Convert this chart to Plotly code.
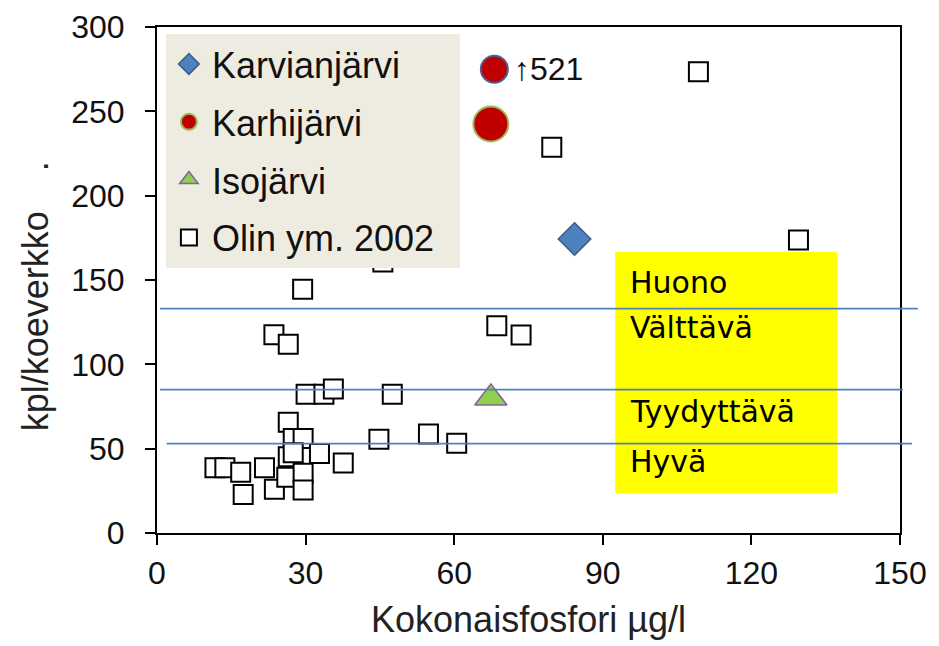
import plotly.graph_objects as go

# ---- data ----
KARVIA_X = [84.3]
KARVIA_Y = [174.3]

KARHI_X = [67.4, 68.1]
KARHI_Y = [242.5, 275.0]          # second point is off-scale (true value 521)
KARHI_LABEL = ["", "↑521"]

ISO_X = [67.4]
ISO_Y = [80.0]

OLIN_X = [11.7, 13.7, 16.9, 17.4, 21.7, 23.7, 26.2, 26.5, 26.5, 27.5, 29.5, 27.5,
          29.5, 29.5, 32.8, 37.6, 29.4, 23.6, 26.5, 30.1, 33.7, 35.6, 47.5, 44.8,
          54.8, 60.5, 68.6, 73.5, 45.6, 79.7, 109.3, 129.5]
OLIN_Y = [38.7, 38.7, 36.0, 22.9, 38.7, 25.9, 33.0, 45.2, 65.6, 56.1, 56.1, 47.6,
          35.4, 25.5, 47.2, 41.5, 144.5, 117.6, 111.9, 82.2, 82.2, 85.4, 82.2, 55.6,
          58.7, 53.2, 122.9, 117.4, 160.7, 228.7, 273.5, 173.7]

# class boundaries (kpl/koeverkko)
BOUNDARIES = [133, 85, 53]
BAND_LABELS = ["Huono", "Välttävä", "Tyydyttävä", "Hyvä"]
BAND_LABEL_Y = [148.4, 122.1, 72.3, 42.1]

X_TICKS = [0, 30, 60, 90, 120, 150]
Y_TICKS = [0, 50, 100, 150, 200, 250, 300]

SANS = "Liberation Sans, Arial, sans-serif"

fig = go.Figure()

fig.add_trace(go.Scatter(
    x=KARVIA_X, y=KARVIA_Y, mode="markers", name="Karvianjärvi",
    legendgroup="a",
    marker=dict(symbol="diamond", size=25, color="#4f81bd", opacity=1,
                line=dict(color="#385d8a", width=1.5)),
))
fig.add_trace(go.Scatter(
    x=KARHI_X, y=KARHI_Y, mode="markers", name="Karhijärvi",
    legendgroup="b",
    marker=dict(symbol="circle", size=[35, 27], color="#c00000", opacity=1,
                line=dict(color=["#9bbb59", "#4a5f93"], width=2)),
))
fig.add_trace(go.Scatter(
    x=ISO_X, y=ISO_Y, mode="markers", name="Isojärvi",
    legendgroup="c",
    marker=dict(symbol="triangle-up", size=28, color="#8fcf4c", opacity=1,
                line=dict(color="#8064a2", width=1.5)),
))
fig.add_trace(go.Scatter(
    x=OLIN_X, y=OLIN_Y, mode="markers", name="Olin ym. 2002\u00a0\u00a0",
    legendgroup="d",
    marker=dict(symbol="square", size=19, color="white", opacity=1,
                line=dict(color="black", width=2)),
))

shapes = [dict(type="rect", xref="x", yref="y", x0=92.5, x1=137.35, y0=23.5, y1=166.8,
               fillcolor="#ffff00", line=dict(width=0), layer="below")]
line_spans = [(0.004, 1.024), (0.004, 1.004), (0.013, 1.016)]
for b, (a0, a1) in zip(BOUNDARIES, line_spans):
    shapes.append(dict(type="line", xref="paper", yref="y", x0=a0, x1=a1, y0=b, y1=b,
                       line=dict(color="#4f81bd", width=1.6), layer="above"))

annotations = []
for lab, yy in zip(BAND_LABELS, BAND_LABEL_Y):
    annotations.append(dict(x=95.1, y=yy, xref="x", yref="y", text=lab, showarrow=False,
                            xanchor="left", yanchor="middle",
                            font=dict(family="DejaVu Sans, Verdana, sans-serif", size=30,
                                      color="black")))
for xx, yy, lab in zip(KARHI_X, KARHI_Y, KARHI_LABEL):
    if lab:
        annotations.append(dict(x=xx, y=yy, xref="x", yref="y", text=lab, showarrow=False,
                                xanchor="left", yanchor="middle", xshift=18,
                                font=dict(family=SANS, size=32, color="#111")))
annotations.append(dict(x=-0.164, y=0.468, xref="paper", yref="paper",
                        text="kpl/koeverkko\u00a0\u00a0\u00a0\u00a0.", showarrow=False,
                        textangle=-90, xanchor="center", yanchor="middle",
                        font=dict(family=SANS, size=36, color="#222")))

axis_common = dict(showline=True, linecolor="black", linewidth=2, mirror=True,
                   ticks="outside", ticklen=10, tickwidth=2, tickcolor="black",
                   showgrid=False, zeroline=False, automargin=False,
                   tickfont=dict(family=SANS, size=32, color="#111"))

fig.update_layout(
    width=931, height=638,
    margin=dict(l=149, r=39, t=19, b=113),
    paper_bgcolor="white", plot_bgcolor="white",
    xaxis=dict(range=[0, 150], tickvals=X_TICKS, ticklabelstandoff=1,
               title=dict(text="Kokonaisfosfori µg/l", standoff=16,
                          font=dict(family=SANS, size=36, color="#222")),
               **axis_common),
    yaxis=dict(range=[0, 300], tickvals=Y_TICKS, ticklabelstandoff=14, **axis_common),
    showlegend=True,
    legend=dict(x=0.012, y=0.986, xanchor="left", yanchor="top",
                bgcolor="#eeece1", borderwidth=0, traceorder="grouped",
                tracegroupgap=8, itemwidth=36,
                font=dict(family=SANS, size=36, color="#111")),
    shapes=shapes, annotations=annotations,
)

fig.write_html("out.html")
